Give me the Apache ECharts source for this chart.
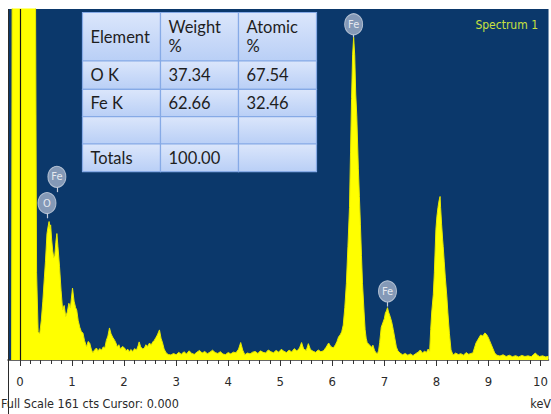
<!DOCTYPE html>
<html>
<head>
<meta charset="utf-8">
<style>
  html, body { margin: 0; padding: 0; background: #ffffff; }
  #chart { width: 551px; height: 414px; }
</style>
<script src="https://cdn.jsdelivr.net/npm/echarts@6/dist/echarts.min.js"></script>
</head>
<body>
<div id="chart"></div>
<script>
// ---- data ----
const energyKeV = [
  -0.16, -0.15, 0.30, 0.32, 0.35, 0.38, 0.41, 0.44, 0.47, 0.49, 0.52, 0.54, 0.56, 0.58, 0.59, 0.61, 0.63, 0.65, 0.67, 0.69,
  0.71, 0.73, 0.76, 0.79, 0.82, 0.85, 0.88, 0.91, 0.94, 0.97, 1.01, 1.04, 1.07, 1.09, 1.12, 1.15, 1.18, 1.21, 1.24, 1.28,
  1.31, 1.34, 1.37, 1.40, 1.43, 1.47, 1.50, 1.53, 1.57, 1.60, 1.63, 1.66, 1.69, 1.72, 1.75, 1.78, 1.82, 1.85, 1.87, 1.90,
  1.93, 1.97, 2.01, 2.04, 2.07, 2.10, 2.13, 2.17, 2.20, 2.24, 2.27, 2.29, 2.32, 2.36, 2.39, 2.42, 2.45, 2.49, 2.52, 2.55,
  2.58, 2.61, 2.64, 2.68, 2.71, 2.74, 2.77, 2.81, 2.85, 2.90,
  2.95, 3.00, 3.05, 3.10, 3.15, 3.20, 3.25, 3.30, 3.35, 3.40, 3.45, 3.50, 3.55, 3.60, 3.65, 3.70, 3.75, 3.80, 3.85, 3.90,
  3.95, 4.00, 4.05, 4.10, 4.15, 4.20, 4.24, 4.28, 4.32, 4.37, 4.42, 4.47, 4.52, 4.57, 4.62, 4.67, 4.72, 4.77, 4.82, 4.87,
  4.92, 4.97, 5.02, 5.07, 5.12, 5.17, 5.22, 5.27, 5.32, 5.37, 5.41, 5.45, 5.50, 5.54, 5.58, 5.63, 5.68, 5.73, 5.78, 5.83,
  5.88, 5.93, 5.97, 6.02, 6.06, 6.09, 6.12, 6.15, 6.18,
  6.21, 6.24, 6.27, 6.30, 6.33, 6.35, 6.37, 6.39, 6.41, 6.43, 6.45, 6.47, 6.50, 6.52, 6.54, 6.56, 6.58, 6.61, 6.63, 6.65,
  6.67, 6.70, 6.73, 6.76, 6.78, 6.81, 6.84, 6.87, 6.89, 6.91, 6.94, 6.97, 7.00, 7.02, 7.04, 7.06, 7.08, 7.11, 7.14, 7.17,
  7.20, 7.23, 7.26, 7.30,
  7.35, 7.40, 7.45, 7.50, 7.55, 7.60, 7.65, 7.69, 7.73, 7.77, 7.81, 7.84, 7.87,
  7.89, 7.91, 7.94, 7.96, 7.99, 8.01, 8.03, 8.05, 8.07, 8.08, 8.10, 8.12, 8.13, 8.15, 8.17, 8.20, 8.22, 8.25, 8.28, 8.32,
  8.37, 8.42, 8.47, 8.52, 8.57, 8.62, 8.66, 8.70, 8.73, 8.76, 8.80, 8.85, 8.89, 8.93, 8.96, 8.99, 9.02, 9.04, 9.08, 9.12,
  9.16, 9.22, 9.28, 9.34, 9.40, 9.46, 9.52, 9.58, 9.64, 9.70, 9.76, 9.82, 9.86, 9.90, 9.94, 9.98, 10.04, 10.10, 10.15
];
const counts = [
  0, 165, 165, 40, 13, 12, 18, 27, 38, 45, 58, 61, 63.5, 60, 62, 55, 50, 47, 48, 54,
  58, 52, 43, 32, 23, 25, 20, 22, 26, 24, 33, 27, 24, 23, 18, 15, 13, 12.4, 9, 6,
  8.5, 7.8, 5, 3.2, 4.5, 5.5, 4, 5.2, 4.6, 6, 5.5, 9, 11, 14.7, 12, 10.5, 9, 7.5, 6, 7,
  5, 6.2, 5.5, 4.2, 5, 3.7, 4.8, 3.9, 5.2, 4.6, 6.5, 8.3, 6, 5, 5.5, 7, 6.2, 7.8, 6.8, 8.2,
  9, 10.2, 11.5, 13.8, 10, 7.8, 5, 3.2, 2.5, 2.3,
  3.0, 2.4, 3.5, 2.6, 3.8, 2.8, 4.2, 3.0, 2.6, 3.6, 4.4, 3.2, 3.9, 2.9, 3.6, 4.5, 3.4, 3.0, 3.8, 2.7,
  2.5, 3.4, 2.8, 3.6, 3.3, 5.0, 8.0, 4.5, 2.4, 3.2, 2.8, 3.6, 3.9, 3.0, 4.2, 3.5, 3.2, 4.6, 3.8, 3.3,
  4.4, 3.6, 4.9, 4.0, 3.4, 4.5, 3.7, 5.2, 4.1, 5.5, 8.0, 5.0, 4.4, 7.5, 4.8, 4.0, 3.5, 4.6, 3.8, 4.2,
  5.8, 7.8, 6.2, 5.5, 7, 8.5, 10.6, 11.5, 12.9,
  16, 24, 35, 52, 70, 95, 120, 140, 148, 140, 122, 112, 88, 75, 62, 48, 35, 22, 14, 10,
  8, 7.2, 6.5, 5.8, 6.8, 4.5, 3.2, 3.0, 4.5, 8, 15, 17, 19, 21.6, 22.5, 24, 22, 20, 17.5, 14,
  10, 6, 4.2, 3.2,
  2.4, 3.0, 2.2, 2.8, 2.0, 2.9, 3.6, 4.6, 3.2, 4.0, 3.5, 5.0, 4.0,
  14, 22, 30, 40, 60, 66, 70, 73, 75, 70, 62, 55, 52, 45, 38, 29, 21.6, 12, 4.6, 2.3,
  3.2, 2.5, 2.9, 2.2, 3.4, 2.6, 3.0, 3.2, 5.5, 7.8, 9.5, 11.5, 11, 12.4, 11.8, 10.6, 9, 7.8, 5.5, 3.2,
  2.2, 1.8, 2.4, 1.6, 2.2, 1.5, 2.0, 1.4, 2.1, 1.6, 1.9, 1.5, 2.4, 3.2, 2.2, 1.6, 1.9, 1.4, 1.7
];
const xTickValues = [0, 1, 2, 3, 4, 5, 6, 7, 8, 9, 10];
const fullScaleCts = 161;
const cursorKeV = 0;

const peakLabelNames = ['O', 'Fe', 'Fe', 'Fe'];
const peakLabelKeV = [0.52, 0.71, 6.41, 7.06];
const peakLabelCts = [72, 84, 154, 31.5];
const peakStemEndCts = [65, 77, 148, 24.5];

const tableHeader = ['Element', 'Weight\n%', 'Atomic\n%'];
const tableRows = [
  ['O K', '37.34', '67.54'],
  ['Fe K', '62.66', '32.46'],
  ['', '', ''],
  ['Totals', '100.00', '']
];

const titleText = 'Spectrum 1';
const footerText = 'Full Scale ' + fullScaleCts + ' cts Cursor: ' + cursorKeV.toFixed(3);
const unitText = 'keV';

// ---- layout / style ----
const NARROW = "'Liberation Sans Narrow','DejaVu Sans Condensed','Arial Narrow',sans-serif";
const PLOT_BG = '#0b386b';
const YELLOW = '#ffff00';

const minorTickValues = [];
for (let v = 0; v <= 10.0001; v += 0.2) minorTickValues.push(Math.round(v * 10) / 10);

// table graphic
const tblLeft = 82.5, tblTop = 12.5;
const colW = [78, 78, 78];
const rowH = [48.5, 28.3, 27.4, 27.3, 27.7];
const tableEls = [];
const allRows = [tableHeader].concat(tableRows);
let yy = tblTop;
for (let r = 0; r < allRows.length; r++) {
  let xx = tblLeft;
  for (let c = 0; c < colW.length; c++) {
    tableEls.push({
      type: 'rect',
      shape: { x: xx, y: yy, width: colW[c], height: rowH[r] },
      style: {
        fill: new echarts.graphic.LinearGradient(0, 0, 0, 1, [
          { offset: 0, color: '#dbe6fb' },
          { offset: 1, color: '#b9cff6' }
        ]),
        stroke: '#86aae6',
        lineWidth: 1.2
      }
    });
    const txt = allRows[r][c];
    if (txt) {
      tableEls.push({
        type: 'text',
        style: {
          text: txt,
          x: xx + 8,
          y: yy + rowH[r] / 2,
          verticalAlign: 'middle',
          align: 'left',
          fill: '#1e1e1e',
          font: "16.5px Lato, 'Open Sans', sans-serif",
          lineHeight: 19
        }
      });
    }
    xx += colW[c];
  }
  yy += rowH[r];
}

const chart = echarts.init(document.getElementById('chart'), null, { renderer: 'svg' });

const option = {
  animation: false,
  backgroundColor: '#ffffff',
  title: {
    text: titleText,
    right: 8,
    top: 14,
    textStyle: { color: '#c9e13f', fontSize: 12, fontWeight: 'normal', fontFamily: NARROW }
  },
  grid: { left: 8, right: 0, top: 9, bottom: 54, show: true, backgroundColor: PLOT_BG, borderWidth: 0 },
  xAxis: [
    {
      type: 'value',
      min: -0.229,
      max: 10.153,
      splitLine: { show: false },
      axisLine: { show: true, onZero: false, lineStyle: { color: '#333', width: 1.5 } },
      axisTick: { show: true, customValues: xTickValues, length: 6, lineStyle: { color: '#333' } },
      axisLabel: {
        customValues: xTickValues,
        margin: 15,
        color: '#2a2a2a',
        fontSize: 13,
        fontFamily: NARROW
      }
    },
    {
      type: 'value',
      min: -0.229,
      max: 10.153,
      position: 'bottom',
      splitLine: { show: false },
      axisLine: { show: false },
      axisTick: { show: true, customValues: minorTickValues, length: 4, lineStyle: { color: '#333' } },
      axisLabel: { show: false }
    }
  ],
  yAxis: {
    type: 'value',
    min: 0,
    max: fullScaleCts,
    show: true,
    splitLine: { show: false },
    axisLine: { show: false },
    axisTick: { show: false },
    axisLabel: { show: false }
  },
  graphic: [
    {
      type: 'line',
      shape: { x1: 8.5, y1: 9, x2: 8.5, y2: 414 },
      style: { stroke: '#2a2a2a', lineWidth: 1 },
      z: 100
    },
    {
      type: 'text',
      left: 1,
      top: 397,
      style: { text: footerText, fill: '#2a2a2a', font: "12.5px " + NARROW }
    },
    {
      type: 'text',
      right: 0,
      top: 397,
      style: { text: unitText, fill: '#2a2a2a', font: "12.5px " + NARROW }
    },
    {
      type: 'group',
      z: 50,
      children: tableEls
    }
  ],
  series: [
    {
      type: 'line',
      name: 'Spectrum 1',
      xAxisIndex: 0,
      data: energyKeV.map((k, i) => [k, counts[i]]),
      symbol: 'none',
      smooth: false,
      clip: true,
      lineStyle: { color: '#e8e800', width: 1 },
      areaStyle: { color: YELLOW, opacity: 1 },
      markLine: {
        silent: true,
        symbol: ['none', 'none'],
        label: { show: false },
        lineStyle: { color: '#151515', width: 1.2, type: 'solid' },
        data: [{ xAxis: cursorKeV }]
      },
      z: 2
    },
    {
      type: 'scatter',
      xAxisIndex: 0,
      data: peakLabelNames.map((n, i) => ({ name: n, value: [peakLabelKeV[i], peakLabelCts[i]] })),
      symbol: 'circle',
      symbolSize: [18, 21],
      itemStyle: { color: '#a2b1cb', borderColor: '#cfd7e4', borderWidth: 1 },
      label: {
        show: true,
        position: 'inside',
        formatter: '{b}',
        color: '#ffffff',
        fontSize: 11,
        fontFamily: NARROW
      },
      markLine: {
        silent: true,
        symbol: ['none', 'none'],
        label: { show: false },
        lineStyle: { color: '#c4ccda', width: 1.2, type: 'solid' },
        data: peakLabelNames.map((n, i) => [
          { coord: [peakLabelKeV[i], peakLabelCts[i] - 4.8] },
          { coord: [peakLabelKeV[i], peakStemEndCts[i]] }
        ])
      },
      z: 5
    }
  ]
};
chart.setOption(option);
</script>
</body>
</html>
